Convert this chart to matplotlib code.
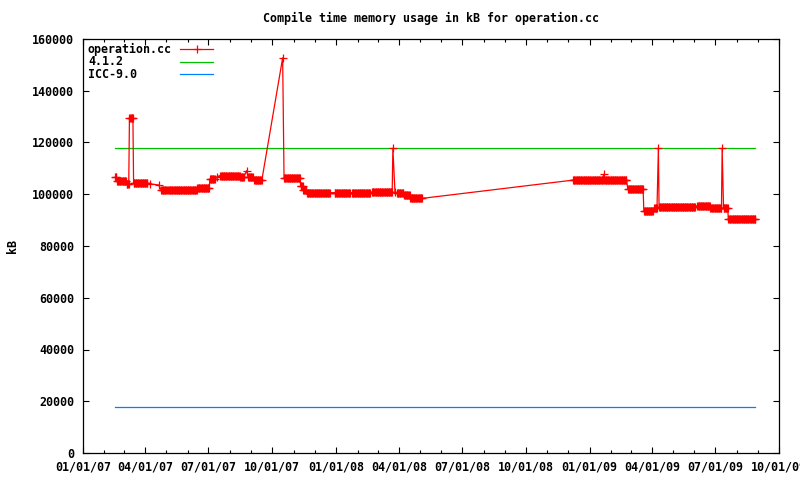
import numpy as np
import pandas as pd
import matplotlib
matplotlib.use("Agg")
import matplotlib.pyplot as plt
import matplotlib.dates as mdates

# ---------------- data ----------------
# operation.cc: daily measurements, stored as runs of constant value
run_start = ['2007-02-16', '2007-02-19', '2007-03-05', '2007-03-09', '2007-03-15',
             '2007-04-08', '2007-04-20', '2007-04-24', '2007-05-05', '2007-06-15',
             '2007-07-03', '2007-07-14', '2007-07-18', '2007-08-16', '2007-08-25',
             '2007-08-27', '2007-09-05', '2007-10-16', '2007-10-18',
             '2007-11-11', '2007-11-15', '2007-11-20', '2007-12-30', '2008-01-24',
             '2008-02-22', '2008-03-23', '2008-03-26', '2008-03-29',
             '2008-04-08', '2008-04-17',
             '2008-12-08', '2009-01-21', '2009-01-22', '2009-02-25', '2009-03-20',
             '2009-04-04', '2009-04-10', '2009-04-11', '2009-06-05',
             '2009-06-24', '2009-07-11', '2009-07-13', '2009-07-20']
run_end = ['2007-02-18', '2007-03-04', '2007-03-08', '2007-03-14', '2007-04-04',
           '2007-04-08', '2007-04-20', '2007-05-03', '2007-06-14', '2007-07-02',
           '2007-07-10', '2007-07-14', '2007-08-15', '2007-08-21', '2007-08-25',
           '2007-09-03', '2007-09-16', '2007-10-16', '2007-11-10',
           '2007-11-14', '2007-11-19', '2007-12-23', '2008-01-21', '2008-02-19',
           '2008-03-22', '2008-03-23', '2008-03-26', '2008-04-07',
           '2008-04-16', '2008-05-04',
           '2009-01-20', '2009-01-21', '2009-02-23', '2009-03-19', '2009-04-02',
           '2009-04-08', '2009-04-10', '2009-06-02', '2009-06-23',
           '2009-07-10', '2009-07-11', '2009-07-19', '2009-08-28']
run_value = [106500, 105300, 104000, 129500, 104200,
             104000, 103600, 101600, 101600, 102300,
             105900, 106800, 107200, 106700, 109100,
             106800, 105500, 152700, 106400,
             103000, 101600, 100600, 100600, 100600,
             100800, 117800, 101000, 100600,
             99700, 98400,
             105500, 107700, 105500, 101900, 93600,
             94600, 117800, 95200, 95500,
             94600, 117800, 94600, 90300]

# reference compilers (constant lines over the data period)
ref_dates = ['2007-02-16', '2009-08-28']
gcc_412 = [117800, 117800]
icc_90 = [17800, 17800]

series_labels = ['operation.cc', '4.1.2', 'ICC-9.0']
series_colors = ['#ff0000', '#00c000', '#0080ff']

xtick_dates = ['2007-01-01', '2007-04-01', '2007-07-01', '2007-10-01',
               '2008-01-01', '2008-04-01', '2008-07-01', '2008-10-01',
               '2009-01-01', '2009-04-01', '2009-07-01', '2009-10-01']
xtick_labels = ['01/01/07', '04/01/07', '07/01/07', '10/01/07',
                '01/01/08', '04/01/08', '07/01/08', '10/01/08',
                '01/01/09', '04/01/09', '07/01/09', '10/01/09']
yticks = [0, 20000, 40000, 60000, 80000, 100000, 120000, 140000, 160000]

# ---------------- expand runs ----------------
dates, vals = [], []
for s, e, v in zip(run_start, run_end, run_value):
    d = pd.date_range(s, e, freq='D')
    dates.extend(d)
    vals.extend([v] * len(d))
dates = pd.to_datetime(dates)

# ---------------- figure ----------------
plt.rcParams['font.family'] = ['DejaVu Sans Mono']
plt.rcParams['font.weight'] = 'bold'
FS = 8.4
MS = 6.4

fig = plt.figure(figsize=(8, 4.8), dpi=100)
L, R, T, B = 83, 779, 39, 453
ax = fig.add_axes([L / 800, 1 - B / 480, (R - L) / 800, (B - T) / 480])

rd = pd.to_datetime(ref_dates)
ax.plot(rd, gcc_412, color=series_colors[1], lw=0.9, zorder=2)
ax.plot(rd, icc_90, color=series_colors[2], lw=0.9, zorder=2)
ax.plot(dates, vals, color=series_colors[0], lw=0.9, marker='+', ms=MS, mew=0.9,
        zorder=3)

ax.set_xlim(pd.Timestamp(xtick_dates[0]), pd.Timestamp(xtick_dates[-1]))
ax.set_ylim(yticks[0], yticks[-1])
ax.set_xticks(pd.to_datetime(xtick_dates))
ax.set_xticklabels(xtick_labels, fontsize=FS, fontweight='bold')
ax.xaxis.set_minor_locator(mdates.MonthLocator())
ax.set_yticks(yticks)
ax.set_yticklabels([str(v) for v in yticks], fontsize=FS, fontweight='bold')

ax.tick_params(which='both', direction='in', top=True, right=True, width=0.8)
ax.tick_params(which='major', length=4.5)
ax.tick_params(which='minor', length=2.3)
ax.tick_params(axis='x', which='major', pad=5.5)
ax.tick_params(axis='y', which='major', pad=6.5)
for sp in ax.spines.values():
    sp.set_linewidth(0.9)

ax.set_ylabel('kB', fontsize=FS, fontweight='bold', labelpad=9)
fig.text((L + R) / 2 / 800, 1 - 18 / 480,
         'Compile time memory usage in kB for operation.cc',
         ha='center', va='center', fontsize=FS, fontweight='bold')

# legend (gnuplot style: text on the left, sample on the right)
W, H = R - L, B - T
rows_y = [49.5, 62, 74.5]
for lab, col, yy, mk in zip(series_labels, series_colors, rows_y, ['+', None, None]):
    ya = 1 - (yy - T) / H
    ax.text((88 - L) / W, ya, lab, transform=ax.transAxes, ha='left', va='center',
            fontsize=FS, fontweight='bold')
    ax.plot([(180 - L) / W, (213 - L) / W], [ya, ya], transform=ax.transAxes,
            color=col, lw=0.9, clip_on=False)
    if mk:
        ax.plot([(196.5 - L) / W], [ya], transform=ax.transAxes, color=col,
                marker=mk, ms=MS, mew=0.9, clip_on=False)

fig.savefig('out.png', dpi=100)
